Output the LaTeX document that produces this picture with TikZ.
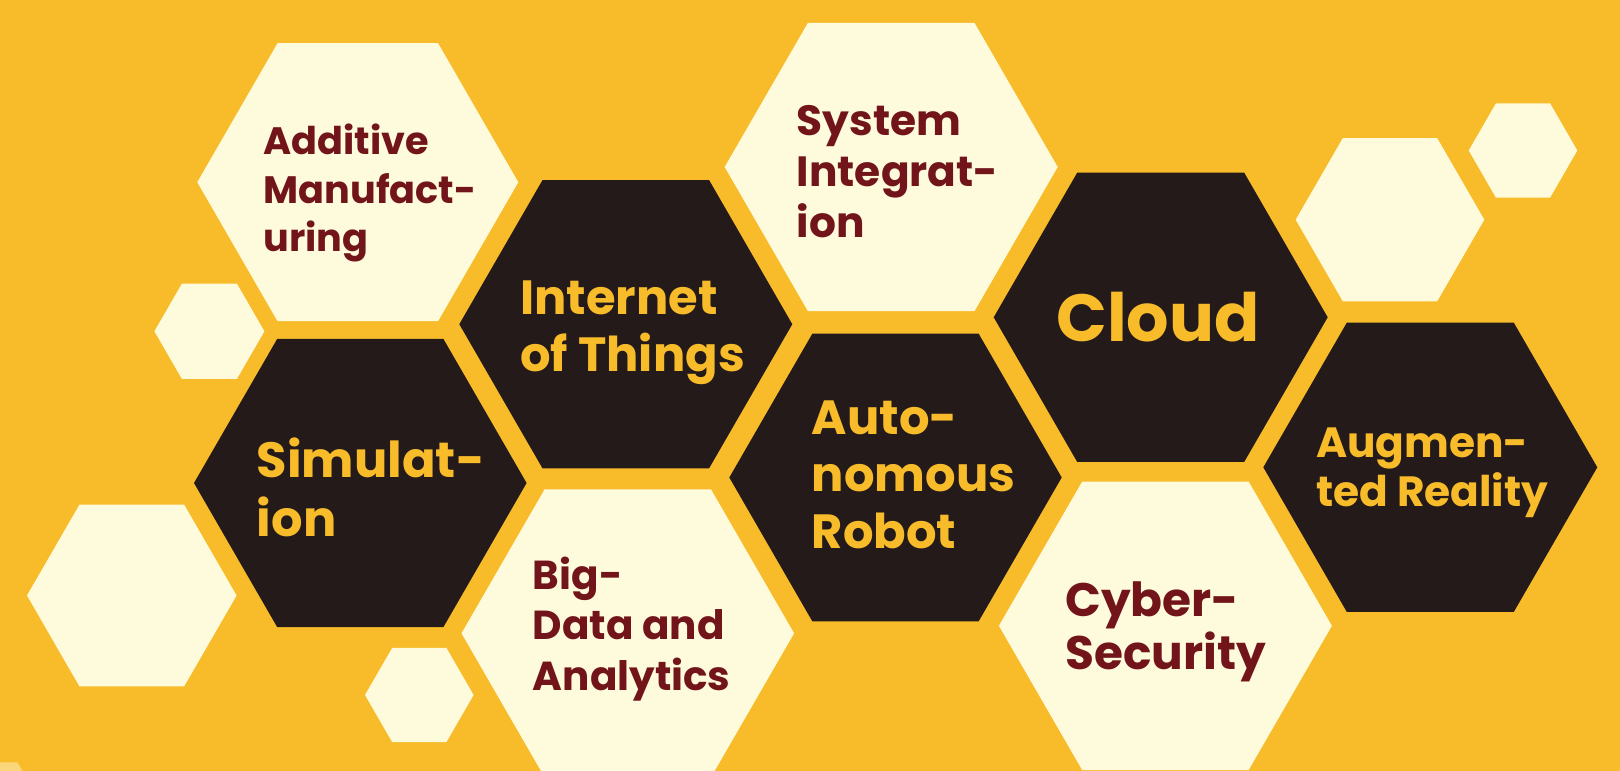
\documentclass[tikz,border=0pt]{standalone}
\usepackage{fontspec}
\setmainfont{Poppins}
\definecolor{honey}{HTML}{F8BC2A}
\definecolor{cream}{HTML}{FEFADC}
\definecolor{comb}{HTML}{231A19}
\definecolor{wine}{HTML}{72151B}
\tikzset{
  celltext/.style 2 args={inner sep=0pt, anchor=base west, align=left,
    font=\fontsize{#1}{#2}\selectfont\bfseries},
  onlight/.style 2 args={celltext={#1}{#2}, text=wine},
  ondark/.style 2 args={celltext={#1}{#2}, text=honey},
}
\begin{document}
\begin{tikzpicture}[x=1pt, y=-1pt]
  \useasboundingbox (0,0) rectangle (1620,771);
  \clip (0,0) rectangle (1620,771);
  \fill[honey] (0,0) rectangle (1620,771);
  % light cells (centre x / centre y / radius)
  \foreach \cx/\cy/\r in {357.8/182.2/160.5, 891.2/167/166.5, 627.8/633.3/166.3,
      1165.4/625.8/166.5, 1390/219.7/94.3, 1523/150.5/54.3, 209.4/331.3/55,
      131.8/595.5/104.8, 419.3/695/54.3} {
    \fill[cream] (\cx,\cy) +(0:\r) -- +(60:\r) -- +(120:\r) -- +(180:\r)
      -- +(240:\r) -- +(300:\r) -- cycle;
  }
  % dark cells
  \foreach \cx/\cy/\r in {625.8/324.2/166.5, 360.3/483/166.3, 895.5/477.5/166.2,
      1160.7/317.3/167, 1430.3/467.3/167} {
    \fill[comb] (\cx,\cy) +(0:\r) -- +(60:\r) -- +(120:\r) -- +(180:\r)
      -- +(240:\r) -- +(300:\r) -- cycle;
  }
  % faint cell in the corner
  \fill[cream, opacity=0.45] (-10,810) +(0:55) -- +(60:55) -- +(120:55)
    -- +(180:55) -- +(240:55) -- +(300:55) -- cycle;

  % labels (placed at the baseline of the last line)
  \node[onlight={38.2}{48.7}] (additive) at (263.3,251.7) {Additive\\Manufact-\\uring};
  \node[onlight={42.3}{51}] (sysint) at (796.6,237.6) {System\\Integrat-\\ion};
  \node[onlight={40.5}{50.3}] (bigdata) at (532.7,690) {Big-\\Data and\\Analytics};
  \node[onlight={47}{52.7}] (cyber) at (1065,669.5) {Cyber-\\Security};
  \node[ondark={48}{57}] (iot) at (520,371) {Internet\\of Things};
  \node[ondark={49.5}{59}] (sim) at (256.7,536.7) {Simulat-\\ion};
  \node[ondark={48}{57}] (robot) at (811.7,548.3) {Auto-\\nomous\\Robot};
  \node[ondark={66.7}{70}] (cloud) at (1056,341) {Cloud};
  \node[ondark={42.3}{49}] (augment) at (1316,506.3) {Augmen-\\ted Reality};
\end{tikzpicture}
\end{document}
